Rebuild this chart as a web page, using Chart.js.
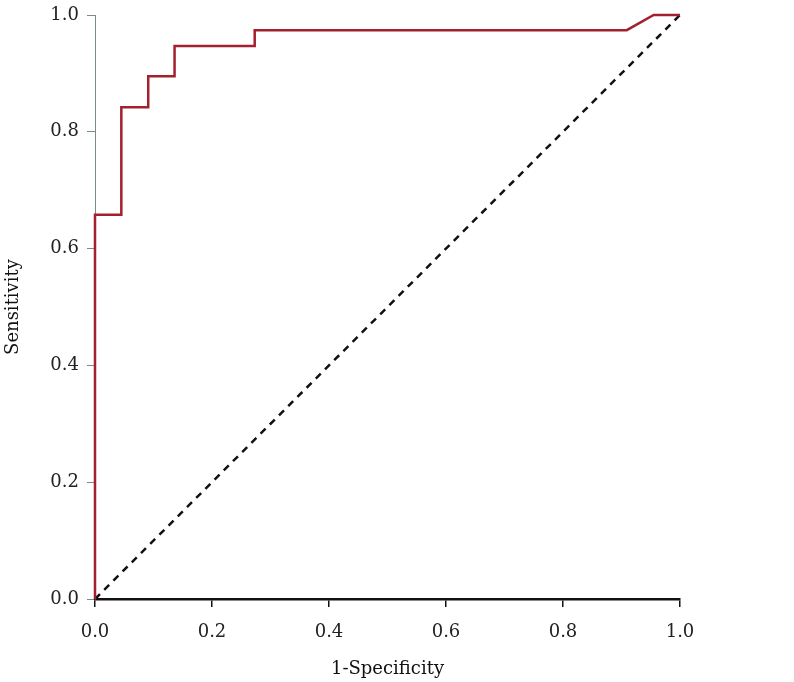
<!DOCTYPE html>
<html lang="en">
	<head>
		<meta charset="utf-8" />
		<title>ROC curve</title>
		<script src="https://cdn.jsdelivr.net/npm/chart.js@4/dist/chart.umd.min.js"></script>
		<style>
			html, body { margin: 0; padding: 0; background: #fff; }
			#wrap { width: 794px; height: 682px; }
		</style>
	</head>

	<body>
		<div id="wrap"><canvas id="rocChart" width="794" height="682"></canvas></div>

		<script>
			// ROC curve points (1-specificity, sensitivity)
			var fpr = [0, 0, 0.045, 0.045, 0.091, 0.091, 0.136, 0.136, 0.273, 0.273, 0.909, 0.955, 1.0];
			var tpr = [0, 0.658, 0.658, 0.842, 0.842, 0.895, 0.895, 0.947, 0.947, 0.974, 0.974, 1.0, 1.0];
			// reference line
			var refX = [0, 1];
			var refY = [0, 1];
			var tickValues = [0, 0.2, 0.4, 0.6, 0.8, 1.0];

			var fontFam = "'DejaVu Serif', 'Liberation Serif', serif";

			function toPoints(xs, ys) {
				return xs.map(function (x, i) { return { x: x, y: ys[i] }; });
			}

			var ctx = document.getElementById("rocChart").getContext("2d");
			var rocChart = new Chart(ctx, {
				type: "line",
				data: {
					datasets: [
						{
							label: "ROC",
							data: toPoints(fpr, tpr),
							borderColor: "#a3212e",
							borderWidth: 2.5,
							pointRadius: 0,
							tension: 0,
							clip: false,
						},
						{
							label: "Reference",
							data: toPoints(refX, refY),
							borderColor: "#111",
							borderWidth: 2.5,
							borderDash: [7, 6],
							pointRadius: 0,
							clip: false,
						},
					],
				},
				options: {
					responsive: false,
					animation: false,
					layout: { padding: { top: 15, right: 114, left: 0, bottom: 0 } },
					plugins: { legend: { display: false }, tooltip: { enabled: false } },
					scales: {
						x: {
							type: "linear",
							min: 0,
							max: 1,
							afterBuildTicks: function (axis) {
								axis.ticks = tickValues.map(function (v) { return { value: v }; });
							},
							afterFit: function (axis) {
								axis.height = 83;
								axis.paddingLeft = 0;
								axis.paddingRight = 0;
							},
							border: { display: true, color: "#111", width: 2.5 },
							grid: { drawOnChartArea: false, drawTicks: true, tickLength: 8, color: "#111", lineWidth: 1.5 },
							ticks: {
								color: "#222",
								font: { family: fontFam, size: 18 },
								padding: 15,
								callback: function (v) { return v.toFixed(1); },
							},
							title: {
								display: true,
								text: "1-Specificity",
								color: "#111",
								font: { family: fontFam, size: 18 },
								padding: { top: 4, bottom: 2 },
							},
						},
						y: {
							type: "linear",
							min: 0,
							max: 1,
							afterBuildTicks: function (axis) {
								axis.ticks = tickValues.map(function (v) { return { value: v }; });
							},
							afterFit: function (axis) {
								axis.width = 95;
								axis.paddingTop = 0;
								axis.paddingBottom = 0;
							},
							border: { display: true, color: "#7b8a8c", width: 1 },
							grid: { drawOnChartArea: false, drawTicks: true, tickLength: 8, color: "#7b8a8c", lineWidth: 1 },
							ticks: {
								color: "#222",
								font: { family: fontFam, size: 18 },
								padding: 8,
								callback: function (v) { return v.toFixed(1); },
							},
							title: {
								display: true,
								text: "Sensitivity",
								color: "#111",
								font: { family: fontFam, size: 18 },
								padding: { top: 3, bottom: 4 },
							},
						},
					},
				},
			});
		</script>
	</body>
</html>
